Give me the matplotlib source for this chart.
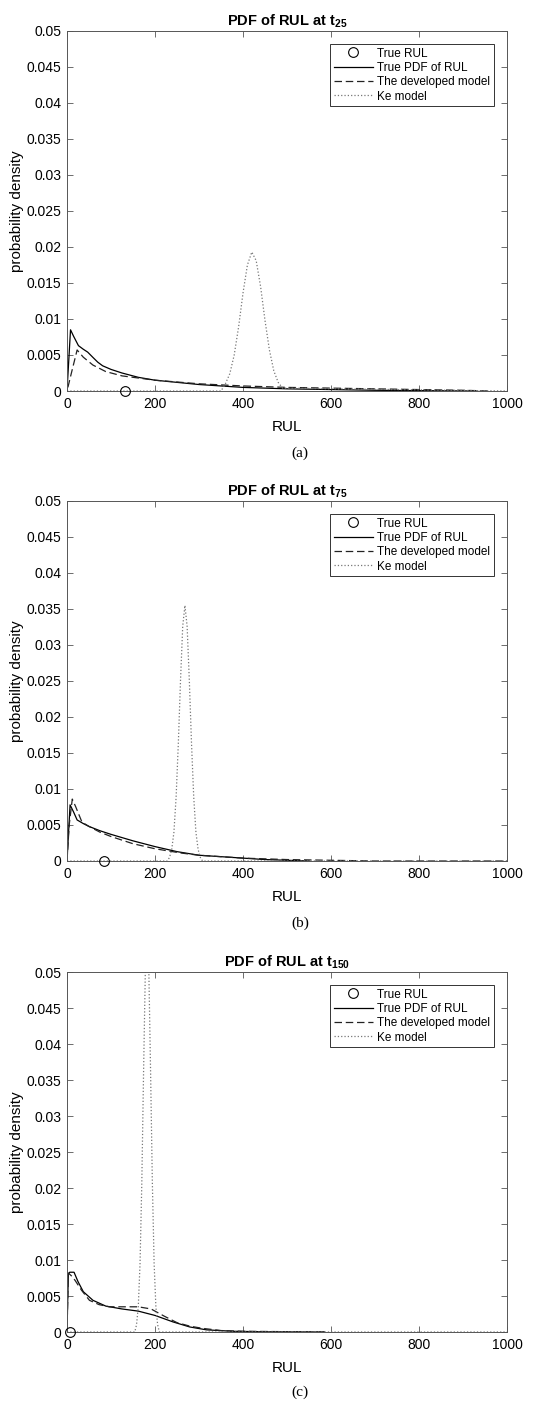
import matplotlib

matplotlib.use("Agg")
import matplotlib.pyplot as plt
from matplotlib.ticker import FormatStrFormatter, MultipleLocator

plt.rcParams["font.family"] = ["Liberation Sans", "DejaVu Sans"]
plt.rcParams["mathtext.fontset"] = "custom"
plt.rcParams["mathtext.rm"] = "Liberation Sans"
plt.rcParams["mathtext.bf"] = "Liberation Sans:bold"

# ---- panel (a): t25 ----
true_rul_a = 132
true_pdf_a_x = [0, 8, 15, 26, 37, 47, 60, 70, 81, 100, 125, 162, 200, 250, 300, 350, 400, 450, 500, 600, 700, 800, 930]
true_pdf_a_y = [0, 0.0085, 0.0076, 0.0063, 0.0058, 0.0054, 0.0046, 0.0040, 0.0035, 0.0030, 0.0025, 0.0019, 0.0015, 0.0012, 0.0009, 0.0007, 0.0005, 0.0004, 0.0003, 0.0002, 0.0001, 0.00005, 0]
dev_a_x = [2, 10, 23, 37, 59, 88, 125, 200, 300, 400, 500, 600, 700, 800, 900, 960]
dev_a_y = [0.0005, 0.0025, 0.0057, 0.0047, 0.0036, 0.0027, 0.0021, 0.0015, 0.0010, 0.0007, 0.0005, 0.0004, 0.0003, 0.0002, 0.0001, 0]
ke_a_x = [0, 350, 360, 370, 380, 390, 400, 410, 420, 430, 440, 450, 460, 470, 480, 490, 1000]
ke_a_y = [0, 0, 0.0010, 0.0024, 0.0050, 0.0089, 0.0136, 0.0175, 0.0193, 0.0181, 0.0145, 0.0098, 0.0057, 0.0028, 0.0012, 0.0004, 0]

# ---- panel (b): t75 ----
true_rul_b = 83
true_pdf_b_x = [0, 7, 15, 23, 37, 50, 75, 100, 150, 200, 250, 300, 350, 400, 450, 500, 550]
true_pdf_b_y = [0, 0.0078, 0.0068, 0.0057, 0.0052, 0.0048, 0.0042, 0.0037, 0.0028, 0.0020, 0.0013, 0.0008, 0.0006, 0.0004, 0.0002, 0.0001, 0]
dev_b_x = [0, 5, 12, 20, 34, 50, 75, 100, 150, 200, 260, 300, 400, 500, 600, 700, 1000]
dev_b_y = [0, 0.0050, 0.0086, 0.0075, 0.0054, 0.0048, 0.0040, 0.0034, 0.0024, 0.0017, 0.0011, 0.0008, 0.0004, 0.0002, 0.0001, 0, 0]
ke_b_x = [0, 228, 233, 238, 243, 248, 253, 258, 263, 268, 273, 278, 283, 288, 293, 298, 303, 308, 1000]
ke_b_y = [0, 0, 0.0005, 0.0016, 0.0040, 0.0089, 0.0163, 0.0251, 0.0326, 0.0355, 0.0326, 0.0251, 0.0163, 0.0089, 0.0040, 0.0016, 0.0005, 0, 0]

# ---- panel (c): t150 ----
true_rul_c = 7
true_pdf_c_x = [0, 3, 6, 16, 25, 37, 59, 88, 125, 162, 200, 241, 279, 317, 377, 450, 585]
true_pdf_c_y = [0, 0.0080, 0.0083, 0.0083, 0.0070, 0.0056, 0.0044, 0.0036, 0.0032, 0.0029, 0.0023, 0.0014, 0.0007, 0.0003, 0.0001, 0.00003, 0]
dev_c_x = [0, 3, 10, 18, 33, 51, 73, 96, 130, 162, 191, 221, 250, 280, 309, 350, 400, 585]
dev_c_y = [0, 0.0082, 0.0078, 0.0072, 0.0058, 0.0044, 0.0038, 0.0035, 0.0035, 0.0035, 0.0032, 0.0022, 0.0013, 0.0008, 0.0005, 0.0002, 0.0001, 0]
ke_c_x = [0, 154, 158, 162, 166, 170, 174, 178, 182, 186, 190, 194, 198, 202, 206, 210, 1000]
ke_c_y = [0, 0, 0.0010, 0.0035, 0.0095, 0.0207, 0.0360, 0.0501, 0.0560, 0.0501, 0.0360, 0.0207, 0.0095, 0.0035, 0.0010, 0, 0]

titles = [r"PDF of RUL at t$_{\mathbf{25}}$", r"PDF of RUL at t$_{\mathbf{75}}$", r"PDF of RUL at t$_{\mathbf{150}}$"]
captions = ["(a)", "(b)", "(c)"]
panels = [
    (true_rul_a, true_pdf_a_x, true_pdf_a_y, dev_a_x, dev_a_y, ke_a_x, ke_a_y),
    (true_rul_b, true_pdf_b_x, true_pdf_b_y, dev_b_x, dev_b_y, ke_b_x, ke_b_y),
    (true_rul_c, true_pdf_c_x, true_pdf_c_y, dev_c_x, dev_c_y, ke_c_x, ke_c_y),
]

W, H = 542, 1407
fig = plt.figure(figsize=(W / 100, H / 100), dpi=100)
fig.patch.set_facecolor("white")

ax_left, ax_right = 67, 507
ax_tops = [31, 501, 972]
ax_h = 360
caption_y = [453, 923, 1392]

for i, (rul, tx, ty, dx, dy, kx, ky) in enumerate(panels):
    top = ax_tops[i]
    ax = fig.add_axes([ax_left / W, 1 - (top + ax_h) / H, (ax_right - ax_left) / W, ax_h / H])
    ax.plot([rul], [0], "o", mfc="none", mec="black", ms=7, mew=0.8, label="True RUL", clip_on=False, zorder=5)
    ax.plot(tx, ty, "-", color="black", lw=0.9, label="True PDF of RUL")
    ax.plot(dx, dy, "--", color="#222222", lw=0.9, dashes=(6, 3), label="The developed model")
    ax.plot(kx, ky, ":", color="#777777", lw=0.9, label="Ke model")

    ax.set_xlim(0, 1000)
    ax.set_ylim(0, 0.05)
    ax.xaxis.set_major_locator(MultipleLocator(200))
    ax.yaxis.set_major_locator(MultipleLocator(0.005))
    ax.yaxis.set_major_formatter(FormatStrFormatter("%g"))
    ax.tick_params(direction="in", length=4, width=0.6, color="#555555", labelsize=10,
                   top=True, right=True, pad=4)
    for sp in ax.spines.values():
        sp.set_color("#555555")
        sp.set_linewidth(0.7)

    ax.set_title(titles[i], fontsize=10.5, fontweight="bold", pad=4)
    ax.set_xlabel("RUL", fontsize=11, va="center")
    ax.xaxis.set_label_coords(0.5, -0.1)
    ax.set_ylabel("probability density", fontsize=11, va="center")
    ax.yaxis.set_label_coords(-0.114, 0.5)

    leg = ax.legend(loc="upper right", bbox_to_anchor=(0.9705, 0.964), borderaxespad=0,
                    fontsize=8.5, handlelength=3.3, handletextpad=0.4, labelspacing=0.2,
                    borderpad=0.3, fancybox=False, framealpha=1, edgecolor="#333333")
    leg.get_frame().set_linewidth(0.7)

    fig.text(300 / W, 1 - caption_y[i] / H, captions[i], ha="center", va="center",
             fontsize=11, family=["Liberation Serif", "DejaVu Serif"])

fig.savefig("out.png", dpi=100)
